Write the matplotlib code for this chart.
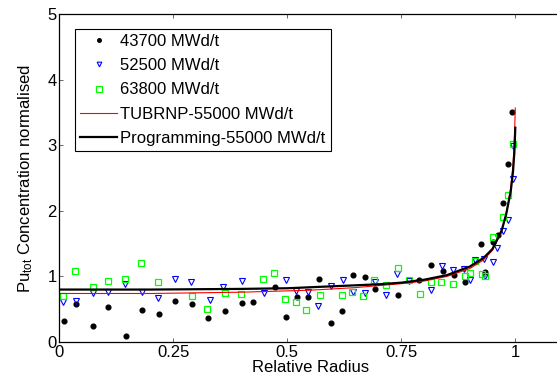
import matplotlib
matplotlib.use('Agg')
import matplotlib.pyplot as plt

plt.rcParams['font.family'] = ['Liberation Sans', 'DejaVu Sans']
plt.rcParams['mathtext.fontset'] = 'custom'
plt.rcParams['mathtext.rm'] = 'Liberation Sans'
plt.rcParams['mathtext.it'] = 'Liberation Sans'

# measured points, 43700 MWd/t
x_437 = [0.010, 0.037, 0.073, 0.107, 0.147, 0.182, 0.218, 0.254, 0.290, 0.327,
         0.364, 0.400, 0.425, 0.473, 0.498, 0.522, 0.546, 0.570, 0.595, 0.619,
         0.644, 0.670, 0.692, 0.742, 0.789, 0.815, 0.841, 0.865, 0.890, 0.924,
         0.933, 0.951, 0.962, 0.972, 0.984, 0.993]
y_437 = [0.32, 0.575, 0.24, 0.54, 0.09, 0.49, 0.42, 0.63, 0.575, 0.36,
         0.47, 0.59, 0.61, 0.845, 0.38, 0.69, 0.69, 0.96, 0.285, 0.48,
         1.02, 0.99, 0.81, 0.72, 0.95, 1.175, 1.08, 1.02, 0.92, 1.49,
         1.07, 1.52, 1.64, 2.12, 2.72, 3.51]

# 52500 MWd/t
x_525 = [0.007, 0.036, 0.073, 0.107, 0.144, 0.181, 0.216, 0.253, 0.289, 0.330,
         0.359, 0.401, 0.449, 0.498, 0.519, 0.545, 0.568, 0.595, 0.622, 0.643,
         0.670, 0.692, 0.717, 0.740, 0.766, 0.816, 0.839, 0.864, 0.887, 0.901,
         0.911, 0.931, 0.933, 0.950, 0.959, 0.972, 0.985, 0.995, 0.996]
y_525 = [0.61, 0.63, 0.75, 0.77, 0.88, 0.77, 0.67, 0.96, 0.91, 0.64,
         0.835, 0.93, 0.745, 0.95, 0.78, 0.77, 0.55, 0.855, 0.95, 0.76,
         0.74, 0.91, 0.71, 1.03, 0.93, 0.80, 1.165, 1.10, 1.11, 0.95,
         1.25, 1.27, 1.00, 1.22, 1.435, 1.695, 1.86, 2.99, 2.48]

# 63800 MWd/t
x_638 = [0.008, 0.034, 0.073, 0.106, 0.143, 0.180, 0.216, 0.291, 0.323, 0.363,
         0.399, 0.447, 0.471, 0.496, 0.520, 0.542, 0.571, 0.619, 0.641, 0.666,
         0.691, 0.717, 0.742, 0.767, 0.792, 0.815, 0.837, 0.864, 0.889, 0.901,
         0.912, 0.926, 0.933, 0.950, 0.972, 0.984, 0.995]
y_638 = [0.70, 1.09, 0.845, 0.93, 0.96, 1.21, 0.91, 0.70, 0.50, 0.745,
         0.735, 0.957, 1.05, 0.65, 0.61, 0.49, 0.72, 0.72, 0.76, 0.70,
         0.95, 0.866, 1.125, 0.94, 0.73, 0.92, 0.91, 0.88, 1.01, 1.06,
         1.24, 1.04, 1.00, 1.60, 1.90, 2.25, 3.02]

# calculated profiles
x_tub = [0, 0.1, 0.2, 0.3, 0.4, 0.5, 0.55, 0.6, 0.65, 0.7, 0.75, 0.8, 0.85,
         0.9, 0.93, 0.95, 0.97, 0.98, 0.99, 0.995, 0.998, 1.0]
y_tub = [0.74, 0.74, 0.74, 0.75, 0.76, 0.78, 0.79, 0.81, 0.83, 0.86, 0.89, 0.93,
         1.00, 1.12, 1.25, 1.40, 1.68, 1.95, 2.35, 2.70, 3.10, 3.57]

x_prog = [0, 0.1, 0.2, 0.3, 0.4, 0.5, 0.55, 0.6, 0.65, 0.7, 0.75, 0.8, 0.85,
          0.9, 0.93, 0.95, 0.97, 0.98, 0.99, 0.995, 0.998, 1.0]
y_prog = [0.80, 0.80, 0.80, 0.805, 0.81, 0.82, 0.835, 0.85, 0.865, 0.88, 0.905,
          0.95, 1.02, 1.15, 1.28, 1.42, 1.70, 1.95, 2.30, 2.60, 2.90, 3.27]

fig = plt.figure(figsize=(5.57, 3.88), dpi=100)
ax = fig.add_axes([0.1065, 0.1186, 0.9005, 0.8445])

ax.plot(x_437, y_437, 'o', color='k', markersize=3.4, linestyle='none', label='43700 MWd/t')
ax.plot(x_525, y_525, 'v', markerfacecolor='none', markeredgecolor='#0000ff',
        markeredgewidth=0.8, markersize=4.5, linestyle='none', label='52500 MWd/t')
ax.plot(x_638, y_638, 's', markerfacecolor='none', markeredgecolor='#00ff00',
        markeredgewidth=0.9, markersize=5, linestyle='none', label='63800 MWd/t')
ax.plot(x_tub, y_tub, color='#ff0000', lw=0.8, label='TUBRNP-55000 MWd/t')
ax.plot(x_prog, y_prog, color='k', lw=1.6, label='Programming-55000 MWd/t')

ax.set_xlim(0, 1.1)
ax.set_ylim(0, 5)
ax.set_xticks([0, 0.25, 0.5, 0.75, 1])
ax.set_xticklabels(['0', '0.25', '0.5', '0.75', '1'])
ax.set_yticks([0, 1, 2, 3, 4, 5])
ax.tick_params(direction='in', length=3, width=0.6, labelsize=12,
               top=True, right=True, pad=2, color='0.3')
for s in ax.spines.values():
    s.set_linewidth(0.9)

ax.set_xlabel('Relative Radius', fontsize=12, labelpad=0)
ax.set_ylabel(r'Pu$_{\mathrm{tot}}$ Concentration normalised', fontsize=12, labelpad=9)

leg = ax.legend(loc='upper left', bbox_to_anchor=(0.032, 0.955), fontsize=12,
                frameon=True, fancybox=False, edgecolor='k', framealpha=1,
                borderpad=0.3, labelspacing=0.55, handlelength=2.2,
                handletextpad=0.2, borderaxespad=0, markerscale=0.75)
leg.get_frame().set_linewidth(0.8)

fig.savefig('out.png', dpi=100)
